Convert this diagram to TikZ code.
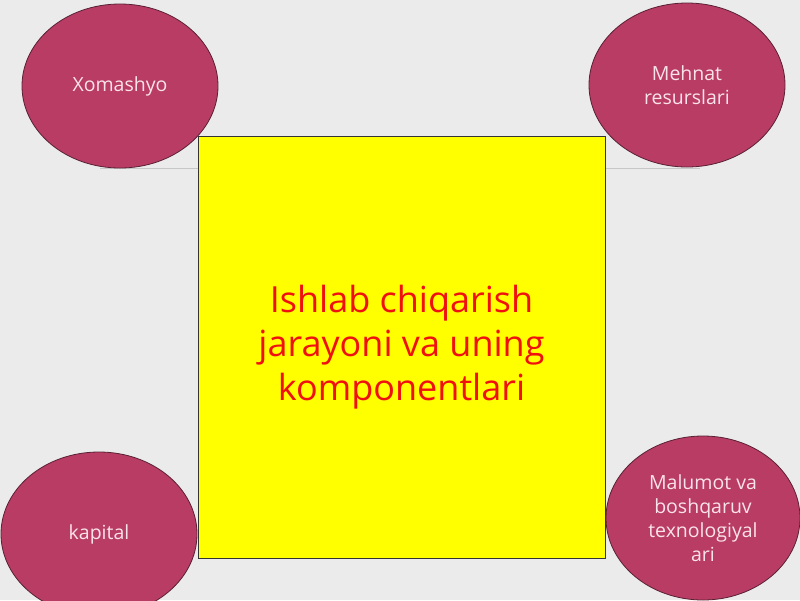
\documentclass[tikz,border=0pt]{standalone}
\usepackage{fontspec}
\setmainfont{Open Sans}
\usetikzlibrary{shapes.geometric}
\definecolor{bg}{HTML}{EBEBEB}
\definecolor{ellfill}{HTML}{B83C63}
\definecolor{ellline}{HTML}{5A2035}
\definecolor{elltext}{HTML}{FBE3EC}
\definecolor{boxfill}{HTML}{FFFF00}
\definecolor{boxtext}{HTML}{F01010}
\tikzset{
  x=1pt, y=-1pt,
  comp/.style={ellipse, draw=ellline, line width=0.8pt, fill=ellfill,
    minimum width=196pt, minimum height=164pt, inner sep=0pt,
    text=elltext, font=\fontsize{19.5}{24}\selectfont, align=center},
  mainbox/.style={draw=black!80, line width=0.8pt, fill=boxfill,
    minimum width=407pt, minimum height=422pt, inner sep=0pt,
    text=boxtext, font=\fontsize{36}{44}\selectfont, align=center},
  faint/.style={draw=black!22, line width=0.8pt}
}
\begin{document}
\begin{tikzpicture}
\fill[bg] (0,0) rectangle (800,600);
\useasboundingbox (0,0) rectangle (800,600);
\coordinate (l1) at (100,168);
\coordinate (l2) at (198,168);
\coordinate (r1) at (605,168);
\coordinate (r2) at (700,168);
\draw[faint] (l1) -- (l2);
\draw[faint] (r1) -- (r2);
\node[mainbox] (main) at (401.5,347) {Ishlab chiqarish\\jarayoni va uning\\komponentlari};
\node[comp] (xom) at (120,86) {Xomashyo};
\node[comp] (meh) at (687,85) {Mehnat\\resurslari};
\node[comp] (kap) at (99,534) {kapital};
\node[comp, minimum width=194pt] (mal) at (703,518) {Malumot va\\boshqaruv\\texnologiyal\\ari};
\end{tikzpicture}
\end{document}
